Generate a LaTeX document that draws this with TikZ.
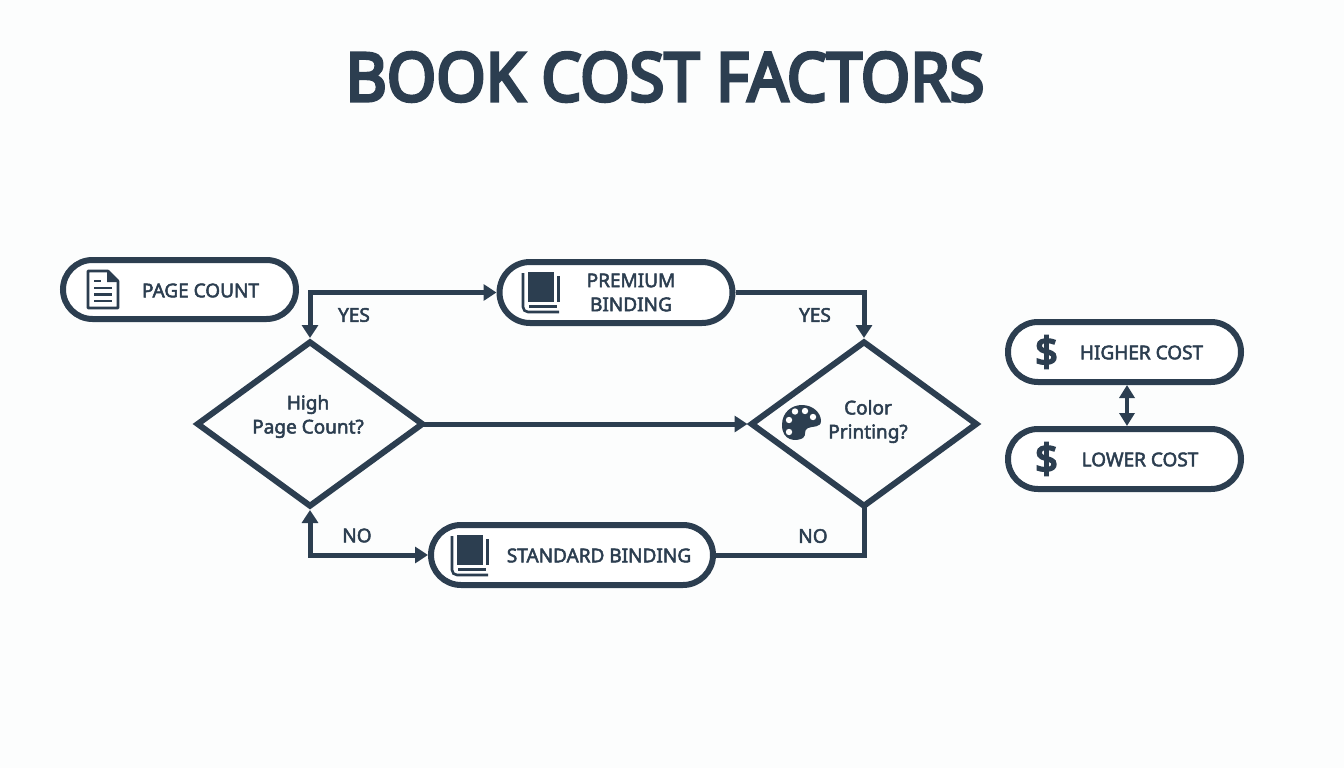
\documentclass[tikz,border=0pt]{standalone}
\usepackage{fontspec}
\setmainfont{Noto Sans}
\newfontfamily\labfont{Noto Sans}[FakeBold=2.6]
\newfontfamily\glyphfont{Noto Sans}[FakeBold=5]
\newfontfamily\titlefont{Noto Sans}[FakeBold=5]
\usetikzlibrary{shapes.misc,shapes.geometric,arrows.meta}
\definecolor{ink}{HTML}{2C3E50}
\definecolor{paper}{HTML}{FCFDFD}
\tikzset{
  pill/.style={rounded rectangle,draw=ink,line width=6pt,fill=white,inner sep=0pt},
  decision/.style={diamond,draw=ink,line width=6pt,inner sep=0pt,minimum width=227pt,minimum height=166pt},
  link/.style={draw=ink,line width=5pt,line join=miter},
  tip/.tip={Triangle[length=13pt,width=16pt]},
  label/.style={text=ink,font=\labfont\fontsize{19}{24}\selectfont,inner sep=0pt,align=center},
  iconglyph/.style={text=ink,font=\glyphfont\fontsize{40}{40}\selectfont,inner sep=0pt},
}
\newcommand{\bookicon}[2]{%
  \begin{scope}[shift={(#1,#2)}]
    \fill[ink] (6,0) rectangle (32,30);
    \draw[ink,line width=2.6pt] (1,1) -- (1,35) to[out=-90,in=180] (6,40) -- (37,40);
    \draw[ink,line width=2.6pt] (36.5,4) -- (36.5,30);
    \draw[ink,line width=3pt] (7,34.5) -- (35,34.5);
  \end{scope}}
\begin{document}
\begin{tikzpicture}[x=1pt,y=-1pt]
\useasboundingbox (0,0) rectangle (1344,768);
\fill[paper] (0,0) rectangle (1344,768);

\node[text=ink,font=\titlefont\fontsize{67}{70}\selectfont,inner sep=0pt,xscale=0.945] (title) at (665,77) {BOOK COST FACTORS};

\node[pill,minimum width=233pt,minimum height=59pt] (page) at (179.5,289.5) {};
\node[pill,minimum width=233pt,minimum height=61pt] (premium) at (616,292.5) {};
\node[pill,minimum width=282pt,minimum height=60pt] (standard) at (572,555) {};
\node[pill,minimum width=233pt,minimum height=60pt] (higher) at (1124.5,352) {};
\node[pill,minimum width=233pt,minimum height=60pt] (lower) at (1124.5,459) {};
\node[decision] (d1) at (310,424) {};
\node[decision] (d2) at (864,424) {};
\coordinate (mid) at (1127,405);

\draw[link,{tip}-{tip}] (d1.north) |- (premium.west);
\draw[link,-{tip}] (premium.east) -| (d2.north);
\draw[link,-{tip},shorten <=-5pt] (d1.east) -- (d2.west);
\draw[link,{tip}-{tip}] (d1.south) |- (standard.west);
\draw[link,shorten >=-5pt] (standard.east) -| (d2.south);
\draw[link,line width=4.4pt,{Triangle[length=13pt,width=15pt]}-{Triangle[length=13pt,width=15pt]}] (higher.south -| mid) -- (lower.north -| mid);

\node[label] (t1) at (200.5,290.5) {PAGE COUNT};
\node[label] (t2) at (631,292.5) {PREMIUM\\BINDING};
\node[label] (t3) at (599,555.5) {STANDARD BINDING};
\node[label] (t4) at (1141.5,352.5) {HIGHER COST};
\node[label] (t5) at (1140,459.5) {LOWER COST};
\node[label] (t6) at (308,416.5) {High\\Page Count?};
\node[label] (t7) at (868,421.5) {Color\\Printing?};
\node[label] (y1) at (354,315) {YES};
\node[label] (y2) at (815,315) {YES};
\node[label] (n1) at (357,535.5) {NO};
\node[label] (n2) at (813,536) {NO};

\node[iconglyph] (dollar1) at (1046.5,352) {\$};
\node[iconglyph] (dollar2) at (1046.5,459) {\$};

% document icon
\draw[ink,line width=2.6pt,line join=round] (88,271) -- (108,271) -- (118,281) -- (118,308) -- (88,308) -- cycle;
\fill[ink] (107,271) -- (118,282) -- (107,282) -- cycle;
\draw[ink,line width=2.6pt] (94,281) -- (101,281) (94,288) -- (112,288) (94,294.5) -- (112,294.5) (94,301) -- (112,301);

\bookicon{522}{272}
\bookicon{451}{535}

% palette icon
\fill[ink] (782,425) .. controls (782,412) and (792,405) .. (802,405)
  .. controls (813,405) and (821,413) .. (821,421)
  .. controls (821,428) and (812,426) .. (808,428)
  .. controls (803,430) and (807,435) .. (803,438)
  .. controls (796,442) and (782,441) .. (782,425) -- cycle;
\fill[white] (789,420) circle (3.2pt) (795,411.5) circle (3.2pt) (805,411) circle (3.2pt) (813,417) circle (3.2pt) (789,432) circle (3.2pt);
\end{tikzpicture}
\end{document}
